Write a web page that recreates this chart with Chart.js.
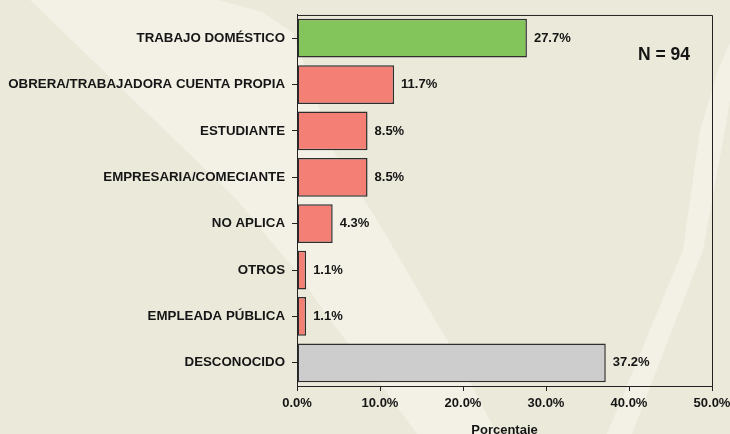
<!DOCTYPE html>
<html>
<head>
<meta charset="utf-8">
<script src="https://cdn.jsdelivr.net/npm/chart.js@4/dist/chart.umd.min.js"></script>
<style>
  html, body { margin: 0; padding: 0; background: #EBE9DA; }
  canvas { display: block; }
</style>
</head>
<body>
<canvas id="grafica" width="730" height="434"></canvas>
<script>
const categorias = ['TRABAJO DOMÉSTICO', 'OBRERA/TRABAJADORA CUENTA PROPIA', 'ESTUDIANTE',
    'EMPRESARIA/COMECIANTE', 'NO APLICA', 'OTROS', 'EMPLEADA PÚBLICA', 'DESCONOCIDO'];
const porcentajes = [27.7, 11.7, 8.5, 8.5, 4.3, 1.1, 1.1, 37.2];
const ticksX = [0, 10, 20, 30, 40, 50];
const totalN = 94;

const colores = ['#83C55B', '#F47F75', '#F47F75', '#F47F75', '#F47F75', '#F47F75', '#F47F75', '#CDCDCD'];
const fuente = "'Liberation Sans', Arial, sans-serif";
const negro = '#151515';

// fondo beige con las franjas claras
const fondo = {
    id: 'fondo',
    beforeDraw(chart) {
        const ctx = chart.ctx;
        ctx.save();
        ctx.fillStyle = '#EBE9DA';
        ctx.fillRect(0, 0, chart.width, chart.height);
        ctx.fillStyle = '#F3F1E6';
        const franjas = [
            [[30, 0], [237, 200], [278, 250], [297, 272], [330, 320], [382, 386], [417, 434],
             [497, 434], [472, 386], [447, 340], [380, 225], [333, 150], [310, 80], [293, 33], [262, 12], [218, 0]],
            [[700, 130], [718, 70], [730, 43], [730, 100], [725, 130], [703, 250], [632, 434], [607, 434], [683, 250]]
        ];
        franjas.forEach(p => {
            ctx.beginPath();
            ctx.moveTo(p[0][0], p[0][1]);
            for (let i = 1; i < p.length; i++) ctx.lineTo(p[i][0], p[i][1]);
            ctx.closePath();
            ctx.fill();
        });
        ctx.restore();
    }
};

// marco superior y derecho, etiquetas de valor y N
const extras = {
    id: 'extras',
    afterDatasetsDraw(chart) {
        const ctx = chart.ctx;
        const a = chart.chartArea;
        ctx.save();
        ctx.strokeStyle = '#222';
        ctx.lineWidth = 1;
        ctx.beginPath();
        ctx.moveTo(a.left, a.top + 0.5);
        ctx.lineTo(a.right + 0.5, a.top + 0.5);
        ctx.lineTo(a.right + 0.5, a.bottom);
        ctx.stroke();

        ctx.fillStyle = negro;
        ctx.font = 'bold 13px ' + fuente;
        ctx.textAlign = 'left';
        ctx.textBaseline = 'middle';
        chart.getDatasetMeta(0).data.forEach((bar, i) => {
            ctx.fillText(porcentajes[i].toFixed(1) + '%', bar.x + 7, bar.y);
        });

        ctx.font = 'bold 17.5px ' + fuente;
        ctx.fillText('N = ' + totalN, 638, 55);
        ctx.restore();
    }
};

new Chart(document.getElementById('grafica').getContext('2d'), {
    type: 'bar',
    data: {
        labels: categorias,
        datasets: [{
            data: porcentajes,
            backgroundColor: colores,
            borderColor: '#2E2E2E',
            borderWidth: 1.5,
            borderSkipped: false,
            barPercentage: 0.835,
            categoryPercentage: 1
        }]
    },
    options: {
        indexAxis: 'y',
        responsive: false,
        devicePixelRatio: 1,
        animation: false,
        layout: { padding: { top: 12, right: 18, bottom: 0, left: 0 } },
        plugins: {
            legend: { display: false },
            tooltip: { enabled: false }
        },
        scales: {
            y: {
                offset: true,
                grid: { display: true, drawOnChartArea: false, drawTicks: true, tickLength: 5, offset: false, color: '#222' },
                border: { display: true, color: '#222', width: 1 },
                ticks: { color: negro, padding: 7, font: { family: fuente, size: 13.3, weight: 'bold' } },
                afterFit(scale) { scale.width = 297; }
            },
            x: {
                min: ticksX[0],
                max: ticksX[ticksX.length - 1],
                afterBuildTicks(scale) { scale.ticks = ticksX.map(v => ({ value: v })); },
                grid: { display: true, drawOnChartArea: false, drawTicks: true, tickLength: 5, color: '#222' },
                border: { display: true, color: '#222', width: 1 },
                ticks: {
                    color: negro, padding: 5, maxRotation: 0,
                    font: { family: fuente, size: 13, weight: 'bold' },
                    callback: v => v.toFixed(1) + '%'
                },
                title: {
                    display: true, text: 'Porcentaje', color: negro, padding: { top: 0, bottom: -1.5 },
                    font: { family: fuente, size: 13, weight: 'bold', lineHeight: 0.8 }
                },
                afterFit(scale) {
                    scale.height = 48;
                    scale.paddingLeft = 0;
                    scale.paddingRight = 0;
                }
            }
        }
    },
    plugins: [fondo, extras]
});
</script>
</body>
</html>
